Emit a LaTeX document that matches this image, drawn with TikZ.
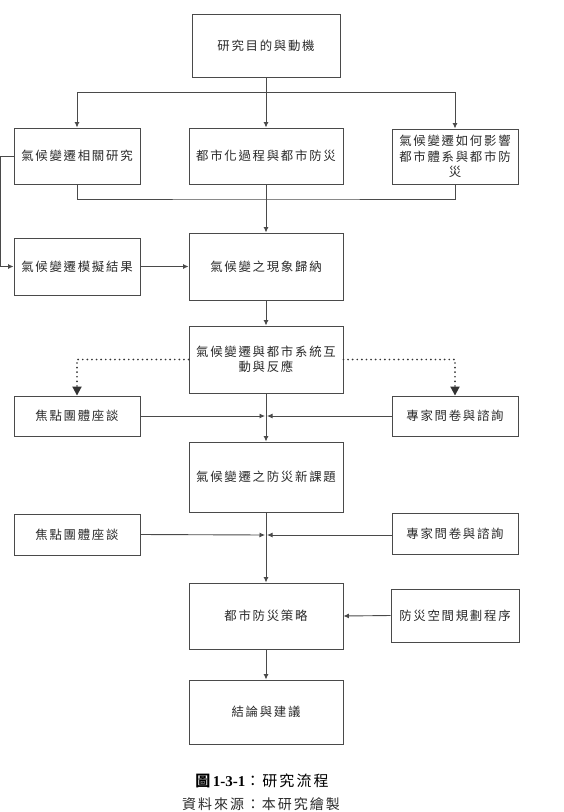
\documentclass[tikz,border=0pt]{standalone}
\usepackage{fontspec}
\usetikzlibrary{arrows.meta}
\newfontfamily\cjk[LetterSpace=14]{Noto Sans CJK TC}
\newfontfamily\cjkcap[LetterSpace=14]{Noto Sans CJK TC}
\newfontfamily\latincap{Liberation Serif}
\definecolor{ln}{HTML}{4a4a4a}
\definecolor{tx}{HTML}{2a2a2a}
\begin{document}
\begin{tikzpicture}[x=1pt,y=-1pt,
  box/.style={draw=ln,line width=0.9pt,rectangle,align=center,inner sep=2pt,
    font=\cjk\fontsize{12.4}{15.5}\selectfont,text=tx},
  wide/.style={box,minimum width=154pt},
  side/.style={box,minimum width=126pt},
  conn/.style={draw=ln,line width=0.9pt},
  arr/.style={conn,-{Latex[length=5.5pt,width=5pt]}},
  dotarr/.style={draw=black!80,line width=1.9pt,line cap=round,dash pattern=on 0pt off 4.6pt,
    -{Triangle[length=9pt,width=9pt,line cap=butt]}}]
\useasboundingbox (0,0) rectangle (564,812);
% nodes
\node[box,minimum width=148pt,minimum height=63pt] (top) at (266,45.5) {研究目的與動機};
\node[side,minimum height=56pt] (r2l) at (77,156) {氣候變遷相關研究};
\node[wide,minimum height=56pt] (r2m) at (266,156) {都市化過程與都市防災};
\node[side,minimum height=55pt] (r2r) at (455,156.5) {氣候變遷如何影響\\都市體系與都市防\\災};
\node[side,minimum height=57pt] (sim) at (77,266.5) {氣候變遷模擬結果};
\node[wide,minimum height=67pt] (phen) at (266,266.5) {氣候變之現象歸納};
\node[wide,minimum height=67pt] (inter) at (266,359.5) {氣候變遷與都市系統互\\動與反應};
\node[side,minimum height=40pt] (fg1) at (77,416) {焦點團體座談};
\node[side,minimum height=40pt] (ex1) at (455,416) {專家問卷與諮詢};
\node[wide,minimum height=70pt] (newt) at (266,477) {氣候變遷之防災新課題};
\node[side,minimum height=41pt] (fg2) at (77,534.5) {焦點團體座談};
\node[side,minimum height=41pt] (ex2) at (455,534) {專家問卷與諮詢};
\node[wide,minimum height=66pt] (strat) at (266,616) {都市防災策略};
\node[box,minimum width=128pt,minimum height=53pt] (plan) at (455,615.5) {防災空間規劃程序};
\node[wide,minimum height=64pt] (concl) at (266,712) {結論與建議};
% junctions
\coordinate (j1) at (266,92);
\coordinate (j2) at (266,199);
\coordinate (m1) at (266,416);
\coordinate (m2) at (266,535);
% connectors
\draw[arr] (top.south) -- (r2m.north);
\draw[arr] (j1) -| (r2l.north);
\draw[arr] (j1) -| (r2r.north);
\draw[conn] (r2l.south) |- (j2) -| (r2r.south);
\draw[arr] (r2m.south) -- (phen.north);
\draw[arr] (r2l.west) -- ++(-13,0) |- (sim.west);
\draw[arr] (sim.east) -- (phen.west);
\draw[arr] (phen.south) -- (inter.north);
\draw[dotarr] (inter.west) -| (fg1.north);
\draw[dotarr] (inter.east) -| (ex1.north);
\draw[arr] (inter.south) -- (newt.north);
\draw[arr] (fg1.east) -- ([xshift=-1pt]m1);
\draw[arr] (ex1.west) -- ([xshift=1pt]m1);
\draw[arr] (newt.south) -- (strat.north);
\draw[arr] (fg2.east) -- ([xshift=-1pt]m2);
\draw[arr] (ex2.west |- m2) -- ([xshift=1pt]m2);
\draw[arr] (plan.west) -- (strat.east);
\draw[arr] (strat.south) -- (concl.north);
% caption
\node[text=black,font=\fontsize{15}{17}\selectfont] (cap1) at (262,781)
  {{\cjkcap\bfseries 圖}\,{\latincap\bfseries 1-3-1}{\cjkcap：研究流程}};
\node[text=tx,font=\cjkcap\fontsize{14}{16}\selectfont] (cap2) at (261,804) {資料來源：本研究繪製};
\end{tikzpicture}
\end{document}
